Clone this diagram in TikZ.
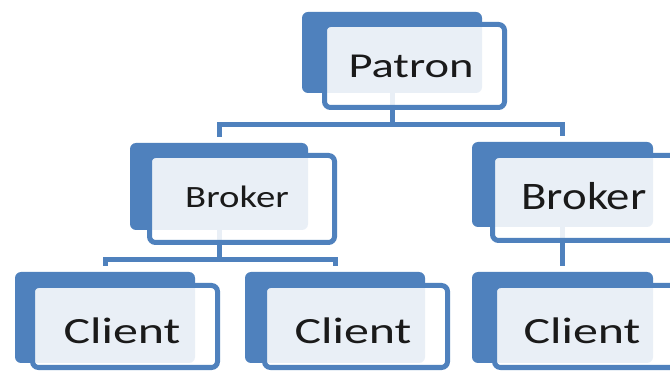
\documentclass[tikz,border=0pt]{standalone}
\usepackage{fontspec}
\setmainfont{Carlito}
\usetikzlibrary{fit}
\definecolor{sablue}{HTML}{4F81BD}
\definecolor{txtcol}{HTML}{1A1A1A}
\newcommand{\boxtext}[3]{\fontsize{#1}{#1}\selectfont\scalebox{#2}[1]{#3}}
\begin{document}
\begin{tikzpicture}[x=1pt,y=-1pt,
  backbox/.style={fill=sablue, rounded corners=6pt, inner sep=0pt, draw=none},
  frontbox/.style={draw=sablue, line width=5pt, fill=white, fill opacity=0.88, rounded corners=6pt, inner sep=0pt},
  conn/.style={draw=sablue, line width=5pt, line join=miter},
  lbl/.style={text=txtcol, inner sep=0pt, anchor=base}]
\fill[white] (0,0) rectangle (670,374);
\useasboundingbox (0,0) rectangle (670,374);
% back boxes
\node[backbox, fit={(302,12) (482,93)}] (pb) {};
\node[backbox, fit={(130,143) (308,230)}] (blb) {};
\node[backbox, fit={(472,142) (653,227)}] (brb) {};
\node[backbox, fit={(15,272) (195,363)}] (c1b) {};
\node[backbox, fit={(245,272) (425,363)}] (c2b) {};
\node[backbox, fit={(472,272) (653,363)}] (c3b) {};
% junctions
\coordinate (j1) at (392,125);
\coordinate (j2) at (219,260);
% connectors
\draw[conn] (pb.south) -- (j1);
\draw[conn, shorten <=6pt, shorten >=6pt] (blb.north) |- (j1) -| (brb.north);
\draw[conn] (blb.south) -- (j2);
\draw[conn, shorten <=6pt, shorten >=6pt] (c1b.north) |- (j2) -| (c2b.north);
\draw[conn, shorten >=6pt] (brb.south) -- (c3b.north);
% front boxes
\node[frontbox, fit={(324.5,24.5) (504.5,107.5)}] (pf) {};
\node[frontbox, fit={(149.5,155.5) (334.5,242.5)}] (blf) {};
\node[frontbox, fit={(492.5,155.5) (679.5,240.5)}] (brf) {};
\node[frontbox, fit={(32.5,285.5) (217.5,367.5)}] (c1f) {};
\node[frontbox, fit={(264.5,285.5) (447.5,367.5)}] (c2f) {};
\node[frontbox, fit={(494.5,285.5) (679.5,367.5)}] (c3f) {};
% labels
\node[lbl] (pt) at (411,78) {\boxtext{35}{1.33}{Patron}};
\node[lbl] (blt) at (237,208) {\boxtext{31}{1.25}{Broker}};
\node[lbl] (brt) at (584,210) {\boxtext{39}{1.2}{Broker}};
\node[lbl] (c1t) at (122,344) {\boxtext{37}{1.35}{Client}};
\node[lbl] (c2t) at (353,344) {\boxtext{37}{1.35}{Client}};
\node[lbl] (c3t) at (582,344) {\boxtext{37}{1.35}{Client}};
\end{tikzpicture}
\end{document}
